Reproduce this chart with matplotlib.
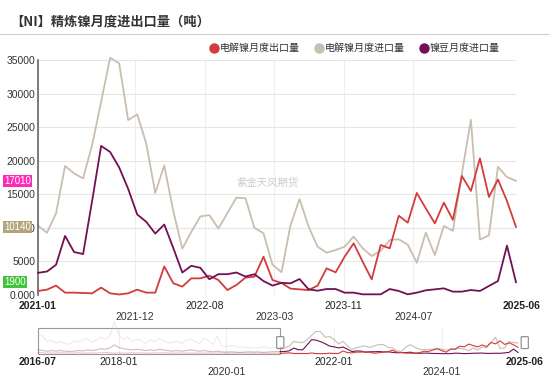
import matplotlib
matplotlib.use('Agg')
import matplotlib.pyplot as plt
import matplotlib.transforms as mtransforms
from matplotlib.lines import Line2D
from matplotlib.patches import Rectangle, FancyBboxPatch
import numpy as np

plt.rcParams['font.family'] = ['Liberation Sans', 'Noto Sans CJK SC']

# 月份 (主图 2021-01 ~ 2025-06)
months = [f'{y}-{m:02d}' for y in range(2021, 2026) for m in range(1, 13)][:54]

# 电解镍月度出口量
export_ni = [600, 800, 1400, 350, 350, 300, 250, 1100, 250, 80, 250, 800,
             350, 350, 4250, 1750, 1250, 2480, 2480, 2880, 2230, 740, 1490, 2580,
             2730, 5710, 2230, 1800, 950, 840, 740, 1390, 3970, 3370, 5710, 7700,
             4960, 2330, 7450, 6950, 11810, 10770, 15200, 12900, 10670, 13750, 11200, 17720,
             15500, 20350, 14600, 17200, 14000, 10140]
# 电解镍月度进口量
import_ni = [10320, 9280, 12160, 19210, 18110, 17370, 22330, 28790, 35340, 34490, 26060, 26900,
             22580, 15200, 19300, 12500, 6900, 9400, 11700, 11900, 9900, 12200, 14500, 14400,
             10000, 9200, 4500, 3400, 10400, 14300, 10200, 7200, 6300, 6700, 7200, 8700,
             6950, 5800, 6600, 8200, 8300, 7500, 4800, 9300, 5950, 10300, 9550, 18100,
             26100, 8250, 8900, 19100, 17550, 17010]
# 镍豆月度进口量
import_bean = [3300, 3500, 4500, 8800, 6400, 6100, 14000, 22200, 21300, 19000, 15800, 12000,
               10900, 9150, 10500, 7000, 3350, 4350, 4050, 2350, 3100, 3100, 3350, 2750,
               3100, 2080, 1400, 1800, 1740, 2380, 840, 640, 890, 890, 350, 350,
               100, 100, 100, 890, 600, 100, 350, 700, 840, 990, 500, 500,
               740, 600, 1340, 2080, 7350, 1900]

# 缩略图里 2016-07 ~ 2020-12 的历史数据 (按缩略图估读)
hist_export = [2000, 1500, 1000, 1200, 800, 1500, 1000, 1200, 900, 1500, 1000, 800,
               1200, 1000, 1500, 2000, 1500, 1000, 1200, 1000, 800, 1500, 1000, 1200,
               1000, 800, 1200, 1000, 1500, 1000, 800, 1200, 1000, 900, 1200, 1000,
               800, 1000, 1200, 900, 1000, 1200, 800, 1000, 900, 1200, 1000, 800,
               900, 1000, 800, 700, 600, 800]
hist_import = [30000, 29000, 19000, 21000, 17000, 19000, 16000, 15000, 20000, 18000, 22000, 24000,
               18000, 21000, 26000, 23000, 28000, 50000, 30000, 22000, 26000, 19000, 23000, 21000,
               16000, 22000, 19000, 24000, 21000, 17000, 18000, 20000, 16000, 21000, 23000, 19000,
               16000, 24000, 21000, 15000, 28000, 12000, 11000, 13000, 12000, 10000, 11000, 9000,
               10000, 9000, 11000, 10000, 9000, 10000]
hist_bean = [6000, 5000, 4000, 5000, 4000, 5000, 4000, 3500, 4000, 5000, 4500, 6000,
             5000, 6000, 8000, 7000, 9000, 14000, 10000, 8000, 7000, 6000, 7000, 6000,
             5000, 6000, 5000, 7000, 6000, 5000, 4000, 5000, 4000, 5000, 6000, 5000,
             4000, 5000, 4000, 3000, 4000, 3000, 2500, 3000, 2500, 2000, 2500, 3000,
             2500, 3000, 2000, 2500, 3000, 3300]

x_ticks = [10.75, 18.5, 26.2, 33.9, 41.6]
row1 = {0: '2021-01', 18.5: '2022-08', 33.9: '2023-11', 53.6: '2025-06'}
row2 = {10.75: '2021-12', 26.2: '2023-03', 41.6: '2024-07'}

c_exp = '#d23c3c'
c_imp = '#c9beb0'
c_bean = '#730f55'

W, H = 550, 377
fig = plt.figure(figsize=(W / 100, H / 100), dpi=100)

def px(x0, y0, x1, y1):
    # 像素框 -> figure 坐标
    return [x0 / W, 1 - y1 / H, (x1 - x0) / W, (y1 - y0) / H]

# 标题和分隔线
fig.text(10 / W, 1 - 21 / H, '【NI】精炼镍月度进出口量（吨）', fontsize=9.5,
         fontweight='bold', color='#333333', va='center',
         family=['Noto Sans CJK SC'])
fig.add_artist(Line2D([0, 548 / W], [1 - 33.5 / H] * 2, color='#cccccc', lw=0.8))

# 图例
legend_items = [(214, '电解镍月度出口量', c_exp), (319, '电解镍月度进口量', c_imp),
                (424, '镍豆月度进口量', c_bean)]
for lx, txt, col in legend_items:
    fig.add_artist(Line2D([lx / W], [1 - 48 / H], marker='o', markersize=6.5,
                          color=col, lw=0))
    fig.text((lx + 6) / W, 1 - 48 / H, txt, fontsize=7.2, color='#333333',
             va='center', family=['Noto Sans CJK SC'])

# 主图
ax = fig.add_axes(px(38, 60, 516, 295))
xs = np.arange(len(months))
ax.plot(xs, export_ni, color=c_exp, lw=1.3, clip_on=False, zorder=3)
ax.plot(xs, import_ni, color=c_imp, lw=1.3, clip_on=False, zorder=2)
ax.plot(xs, import_bean, color=c_bean, lw=1.3, clip_on=False, zorder=4)

ax.set_xlim(0, len(months) - 1)
ax.set_ylim(0, 35000)
ax.set_yticks(np.arange(0, 35001, 5000))
ax.set_yticklabels(['0.000'] + [str(v) for v in range(5000, 35001, 5000)])
ax.tick_params(axis='y', length=0, pad=2, labelsize=7.5, labelcolor='#333333')
ax.set_xticks([])
ax.grid(axis='y', color='#e6e6e6', lw=0.8)
for t in x_ticks:
    ax.axvline(t, color='#eeeeee', lw=0.8, zorder=0)
for s in ['top', 'right', 'bottom']:
    ax.spines[s].set_visible(False)
ax.spines['left'].set_color('#666666')
ax.spines['left'].set_linewidth(1.2)

tr = ax.get_xaxis_transform()
for xv, lab in row1.items():
    bold = lab in ('2021-01', '2025-06')
    ax.text(xv, -0.045, lab, transform=tr, ha='center', va='center', fontsize=7.5,
            fontweight='bold' if bold else 'normal', color='#222222')
for xv, lab in row2.items():
    ax.text(xv, -0.093, lab, transform=tr, ha='center', va='center', fontsize=7.5,
            color='#333333')

# 水印
ax.text(25.5, 16800, '紫金天风期货', fontsize=7.5, color='#cccccc', ha='center',
        va='center', family=['Noto Sans CJK SC'])

# 左侧最新值标签 (盖住 y 轴刻度)
tag_tr = mtransforms.blended_transform_factory(fig.transFigure, ax.transData)
tags = [(import_ni[-1], '#ff2bb8'), (export_ni[-1], '#b3a67a'), (import_bean[-1], '#3fc43a')]
for val, col in tags:
    ax.text(4 / W, val, str(val), transform=tag_tr, ha='left', va='center',
            fontsize=7, color='white', clip_on=False, zorder=10,
            bbox=dict(boxstyle='square,pad=0.12', fc=col, ec='none'))

# 底部缩略图 (dataZoom)
sx = fig.add_axes(px(38, 327.8, 518, 353.7))
n_all = len(hist_import) + len(months)
all_x = np.arange(n_all)
h = len(hist_import)
for hist, cur, col in [(hist_import, import_ni, c_imp), (hist_bean, import_bean, c_bean),
                       (hist_export, export_ni, c_exp)]:
    full = hist + cur
    sx.plot(all_x[:h + 1], full[:h + 1], color=col, lw=0.8, alpha=0.3, clip_on=False)
    sx.plot(all_x[h:], full[h:], color=col, lw=0.8, clip_on=False)
sx.set_xlim(0, n_all - 1)
sx.set_ylim(0, 40900)
sx.axis('off')
for m in [18, 42, 66, 90]:
    sx.axvline(m, color='#eeeeee', lw=0.8, zorder=0)
sx.add_patch(Rectangle((0, 0), h, 40900, fill=False, ec='#999999', lw=0.8,
                       clip_on=False))
for hx in [h, n_all - 1 + 1.5]:
    sx.add_patch(FancyBboxPatch((hx - 0.5, 9000), 1.0, 17000,
                                boxstyle='round,pad=0.3,rounding_size=0.3',
                                fc='white', ec='#888888', lw=0.8, clip_on=False,
                                mutation_aspect=3000))
str_ = sx.get_xaxis_transform()
slider_row1 = {0: '2016-07', 18: '2018-01', 66: '2022-01', n_all - 1 + 1.5: '2025-06'}
slider_row2 = {42: '2020-01', 90: '2024-01'}
for xv, lab in slider_row1.items():
    bold = lab in ('2016-07', '2025-06')
    sx.text(xv, -0.33, lab, transform=str_, ha='center', va='center', fontsize=7.5,
            fontweight='bold' if bold else 'normal', color='#222222')
for xv, lab in slider_row2.items():
    sx.text(xv, -0.7, lab, transform=str_, ha='center', va='center', fontsize=7.5,
            color='#333333')

fig.savefig('out.png', dpi=100, facecolor='white')
